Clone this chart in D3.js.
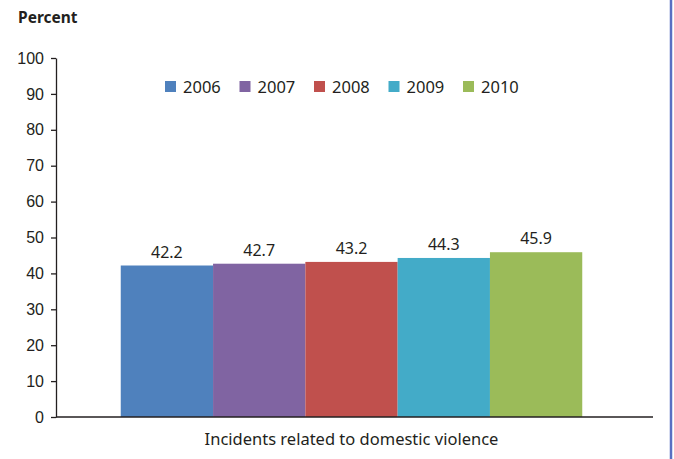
<!DOCTYPE html>
<html>
<head>
<meta charset="utf-8">
<script src="https://cdn.jsdelivr.net/npm/d3@7"></script>
<style>
  body { margin: 0; background: #ffffff; }
  svg { display: block; font-family: "Noto Sans", "Open Sans", sans-serif; }
</style>
</head>
<body>
<div id="chart"></div>
<script>
const years = ["2006", "2007", "2008", "2009", "2010"];
const values = [42.2, 42.7, 43.2, 44.3, 45.9];
const colors = ["#4f81bd", "#8064a2", "#c0504d", "#43abc8", "#9bbb59"];
const category = "Incidents related to domestic violence";
const yTicks = [0, 10, 20, 30, 40, 50, 60, 70, 80, 90, 100];

const width = 674;
const height = 459;
const plotLeft = 56, plotRight = 653, plotTop = 58, plotBottom = 417;

const svg = d3.select("#chart")
  .append("svg")
  .attr("width", width)
  .attr("height", height);

// y scale
const yScale = d3.scaleLinear()
  .domain([0, 100])
  .range([plotBottom, plotTop]);

// outer band for the one category, inner band for the years
const x0 = d3.scaleBand()
  .domain([category])
  .range([plotLeft, plotRight])
  .paddingInner(0)
  .paddingOuter(0.1);

const x1 = d3.scaleBand()
  .domain(years)
  .range([x0(category) + 15, x0(category) + x0.bandwidth() - 21]);

// y axis
const yAxis = d3.axisLeft(yScale)
  .tickValues(yTicks)
  .tickSize(5)
  .tickSizeOuter(0)
  .tickPadding(7);

const gy = svg.append("g")
  .attr("transform", `translate(${plotLeft},0)`)
  .call(yAxis);
gy.select(".domain").attr("stroke", "#231f20").attr("stroke-width", 1.3);
gy.selectAll(".tick line").attr("stroke", "#231f20").attr("stroke-width", 1.3);
gy.selectAll(".tick text")
  .style("font-size", "16px")
  .attr("fill", "#231f20");

// bars
svg.selectAll(".bar")
  .data(values)
  .enter()
  .append("rect")
  .attr("class", "bar")
  .attr("x", (d, i) => x1(years[i]))
  .attr("width", x1.bandwidth())
  .attr("y", d => yScale(d))
  .attr("height", d => yScale(0) - yScale(d))
  .attr("fill", (d, i) => colors[i]);

// x axis line
svg.append("line")
  .attr("x1", plotLeft)
  .attr("x2", plotRight)
  .attr("y1", yScale(0))
  .attr("y2", yScale(0))
  .attr("stroke", "#231f20")
  .attr("stroke-width", 1.3);

// value labels
svg.selectAll(".label")
  .data(values)
  .enter()
  .append("text")
  .attr("x", (d, i) => x1(years[i]) + x1.bandwidth() / 2)
  .attr("y", d => yScale(d) - 8)
  .attr("text-anchor", "middle")
  .style("font-size", "16px")
  .attr("fill", "#231f20")
  .text(d => d.toFixed(1));

// category label
svg.append("text")
  .attr("x", x1.range()[0] + (x1.range()[1] - x1.range()[0]) / 2)
  .attr("y", 445)
  .attr("text-anchor", "middle")
  .style("font-size", "16.5px")
  .attr("fill", "#231f20")
  .text(category);

// y title
svg.append("text")
  .attr("x", 18)
  .attr("y", 23)
  .style("font-size", "15.5px")
  .style("font-weight", "bold")
  .attr("fill", "#231f20")
  .text("Percent");

// legend
const legend = svg.selectAll(".legend")
  .data(years)
  .enter()
  .append("g")
  .attr("class", "legend")
  .attr("transform", (d, i) => `translate(${165 + i * 74.5},81)`);

legend.append("rect")
  .attr("width", 11)
  .attr("height", 11)
  .attr("fill", (d, i) => colors[i]);

legend.append("text")
  .attr("x", 18)
  .attr("y", 11.5)
  .style("font-size", "16.5px")
  .attr("fill", "#231f20")
  .text(d => d);

// page border line at right
svg.append("line")
  .attr("x1", 671)
  .attr("x2", 671)
  .attr("y1", 0)
  .attr("y2", height)
  .attr("stroke", "#5a6fc2")
  .attr("stroke-width", 2.5);
</script>
</body>
</html>
